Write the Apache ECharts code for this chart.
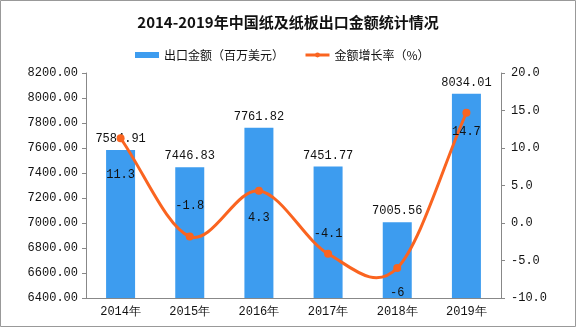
<!DOCTYPE html>
<html><head><meta charset="utf-8">
<script src="https://cdn.jsdelivr.net/npm/echarts@6/dist/echarts.min.js"></script>
<style>html,body{margin:0;padding:0;background:#fff}#c{width:576px;height:327px}</style>
</head><body><div id="c"></div>
<script>
const categories = ['2014年','2015年','2016年','2017年','2018年','2019年'];
const exportValues = [7584.91, 7446.83, 7761.82, 7451.77, 7005.56, 8034.01];
const growthRates = [11.3, -1.8, 4.3, -4.1, -6, 14.7];
const growthLabelPos = [['bottom',27],['top',21],['bottom',17],['top',10],['bottom',15],['bottom',9]];

const chart = echarts.init(document.getElementById('c'));
const numFont = '"Liberation Mono", "DejaVu Sans Mono", monospace';
const cjkFont = '"Noto Sans CJK SC", sans-serif';
const lineColor = '#fa6420';

// Catmull-Rom style smooth curve through the points (computed via the axis scales)
function renderCurve(params, api) {
  if (params.dataIndex !== 0) return null;
  const pts = growthRates.map((v, i) => api.coord([i, v]));
  const n = pts.length;
  const tan = pts.map((p, i) => {
    const a = pts[Math.max(0, i - 1)], b = pts[Math.min(n - 1, i + 1)];
    const f = (i === 0 || i === n - 1) ? 1 : 0.5;
    return [(b[0] - a[0]) * f, (b[1] - a[1]) * f];
  });
  let d = 'M' + pts[0][0] + ' ' + pts[0][1];
  for (let i = 0; i < n - 1; i++) {
    const p = pts[i], q = pts[i + 1];
    d += ' C' + (p[0] + tan[i][0] / 3) + ' ' + (p[1] + tan[i][1] / 3) + ' ' +
         (q[0] - tan[i + 1][0] / 3) + ' ' + (q[1] - tan[i + 1][1] / 3) + ' ' + q[0] + ' ' + q[1];
  }
  return {type: 'path', shape: {pathData: d}, style: {fill: null, stroke: lineColor, lineWidth: 3}};
}

chart.setOption({
  animation: false,
  backgroundColor: '#fff',
  title: {
    text: '2014-2019年中国纸及纸板出口金额统计情况',
    left: 'center', top: 10,
    textStyle: {fontFamily: cjkFont, fontSize: 15, fontWeight: 'bold', color: '#111'}
  },
  legend: {
    left: 130, top: 44, itemWidth: 24, itemHeight: 6, itemGap: 20,
    textStyle: {fontFamily: cjkFont, fontSize: 12, color: '#111'},
    data: [{name: '出口金额（百万美元）', icon: 'rect'},
           {name: '金额增长率（%）', lineStyle: {opacity: 1, width: 3, color: lineColor}}]
  },
  grid: {left: 86, right: 75, top: 73, bottom: 29},
  xAxis: {
    type: 'category', data: categories,
    axisLine: {onZero: false, lineStyle: {color: '#888'}},
    axisTick: {length: 4, lineStyle: {color: '#888'}},
    axisLabel: {color: '#111', fontFamily: numFont, fontSize: 12, margin: 8}
  },
  yAxis: [{
    type: 'value', min: 6400, max: 8200, interval: 200,
    axisLine: {show: true, lineStyle: {color: '#888'}},
    axisTick: {show: true, length: 4, lineStyle: {color: '#888'}},
    splitLine: {show: false},
    axisLabel: {color: '#111', fontFamily: numFont, fontSize: 12, margin: 8, formatter: v => v.toFixed(2)}
  }, {
    type: 'value', min: -10, max: 20, interval: 5,
    axisLine: {show: true, lineStyle: {color: '#888'}},
    axisTick: {show: true, length: 4, lineStyle: {color: '#888'}},
    splitLine: {show: false},
    axisLabel: {color: '#111', fontFamily: numFont, fontSize: 12, margin: 10, formatter: v => v.toFixed(1)}
  }],
  series: [{
    name: '出口金额（百万美元）', type: 'bar', data: exportValues, barWidth: 29,
    itemStyle: {color: '#3d9cef'},
    label: {show: true, position: 'top', distance: 5, color: '#111', fontFamily: numFont, fontSize: 12, formatter: p => p.value.toFixed(2)}
  }, {
    name: 'curve', type: 'custom', yAxisIndex: 1, z: 3,
    data: growthRates.map((v, i) => [i, v]),
    renderItem: renderCurve, silent: true
  }, {
    name: '金额增长率（%）', type: 'line', yAxisIndex: 1, z: 4,
    symbol: 'circle', symbolSize: 8,
    lineStyle: {width: 3, color: lineColor, opacity: 0},
    itemStyle: {color: lineColor},
    data: growthRates.map((v, i) => ({value: v, label: {position: growthLabelPos[i][0], distance: growthLabelPos[i][1]}})),
    label: {show: true, color: '#111', fontFamily: numFont, fontSize: 12}
  }],
  graphic: [{type: 'rect', shape: {x: 0.5, y: 0.5, width: 575, height: 326}, style: {fill: null, stroke: '#999', lineWidth: 1}, silent: true}]
});
</script></body></html>
